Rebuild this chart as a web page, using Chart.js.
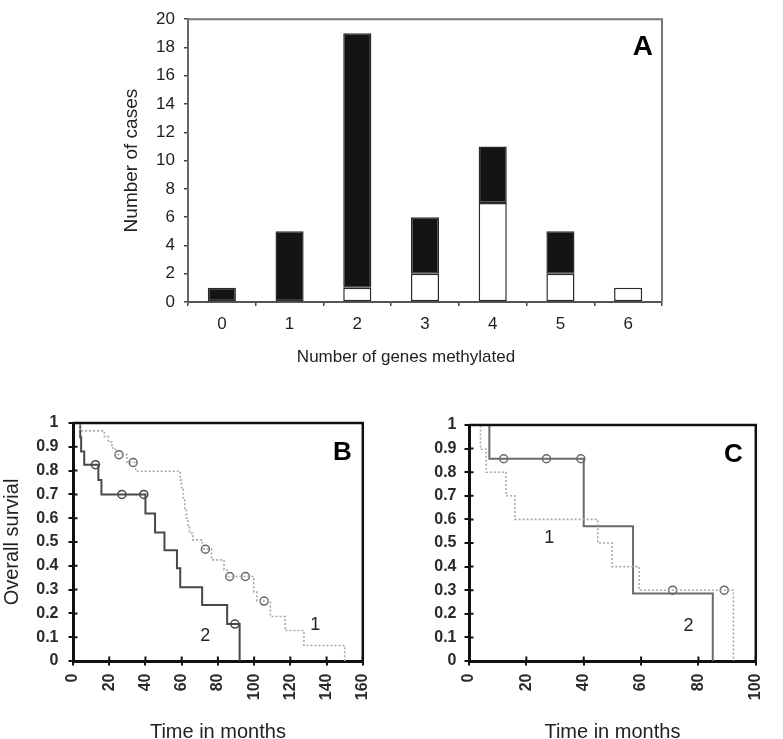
<!DOCTYPE html>
<html>
<head>
<meta charset="utf-8">
<script src="https://cdn.jsdelivr.net/npm/chart.js@4.4.0/dist/chart.umd.min.js"></script>
<style>
  html, body { margin: 0; padding: 0; background: #fff; overflow: hidden; }
  #wrap { position: relative; width: 783px; height: 739px; background: #fff; }
  canvas { position: absolute; }
</style>
</head>
<body>
<div id="wrap">
  <canvas id="cA" width="783" height="370" style="left:0;top:0"></canvas>
  <canvas id="cB" width="390" height="369" style="left:0;top:370px"></canvas>
  <canvas id="cC" width="393" height="369" style="left:390px;top:370px"></canvas>
</div>
<script>
// ---------- DATA ----------
// Panel A
const genesMethylated = ['0', '1', '2', '3', '4', '5', '6'];
const casesWhite = [0, 0, 1, 2, 7, 2, 1];
const casesBlack = [1, 5, 18, 4, 4, 3, 0];
const casesTicks = ['0', '2', '4', '6', '8', '10', '12', '14', '16', '18', '20'];

// Survival tick labels
const survivalTicks = ['0', '0.1', '0.2', '0.3', '0.4', '0.5', '0.6', '0.7', '0.8', '0.9', '1'];

// Panel B, group 1 (dotted)
const bTime1 = [0, 3.8, 17.3, 19.5, 21.5, 23.5, 29.8, 34.6, 59.2, 59.9, 60.9, 61.7, 62.6, 63.5, 64.3, 66.1, 71.3, 76.5, 83.4, 85.1, 99.8, 101.5, 109.0, 117.1, 127.5, 150.0];
const bSurv1 = [1, 0.967, 0.944, 0.92, 0.895, 0.867, 0.834, 0.797, 0.76, 0.72, 0.68, 0.64, 0.60, 0.565, 0.537, 0.509, 0.47, 0.425, 0.383, 0.355, 0.29, 0.252, 0.187, 0.128, 0.065, 0];
const bCensT1 = [25.4, 33.2, 73.1, 86.5, 95.2, 105.5];
const bCensS1 = [0.867, 0.834, 0.47, 0.355, 0.355, 0.252];
// Panel B, group 2 (solid)
const bTime2 = [0, 4.0, 4.5, 6.2, 14.0, 15.7, 40.0, 45.3, 50.5, 57.4, 59.2, 71.3, 85.1, 92.0];
const bSurv2 = [1, 0.94, 0.88, 0.825, 0.76, 0.70, 0.62, 0.54, 0.465, 0.39, 0.31, 0.235, 0.155, 0];
const bCensT2 = [12.4, 27.0, 39.1, 89.4];
const bCensS2 = [0.825, 0.70, 0.70, 0.155];
const bTicksX = ['0', '20', '40', '60', '80', '100', '120', '140', '160'];
const bNotes = [{ text: '1', x: 133.7, y: 0.153 }, { text: '2', x: 73.0, y: 0.104 }];

// Panel C, group 1 (dotted)
const cTime1 = [0, 4.0, 6.0, 12.9, 16.0, 44.9, 49.9, 59.3, 92.2];
const cSurv1 = [1, 0.897, 0.80, 0.70, 0.60, 0.50, 0.40, 0.30, 0];
const cCensT1 = [71.0, 89.0];
const cCensS1 = [0.30, 0.30];
// Panel C, group 2 (solid)
const cTime2 = [0, 7.1, 40.0, 57.2, 85.0];
const cSurv2 = [1, 0.857, 0.571, 0.286, 0];
const cCensT2 = [12.1, 27.0, 39.0];
const cCensS2 = [0.857, 0.857, 0.857];
const cTicksX = ['0', '20', '40', '60', '80', '100'];
const cNotes = [{ text: '1', x: 28.0, y: 0.52 }, { text: '2', x: 76.5, y: 0.147 }];

// ---------- SETUP ----------
const FONT = '"Liberation Sans", Arial, Helvetica, sans-serif';
Chart.defaults.font.family = FONT;
Chart.defaults.color = '#222';

const pts = (xs, ys) => xs.map((x, i) => ({ x: x, y: ys[i] }));

const framePlugin = {
  id: 'frame',
  afterDraw(chart, args, o) {
    const ctx = chart.ctx, a = chart.chartArea;
    const xs = chart.scales.x, ys = chart.scales.y;
    ctx.save();
    ctx.strokeStyle = o.color;
    ctx.lineWidth = o.width;
    ctx.beginPath();
    ctx.moveTo(a.left, a.top);
    ctx.lineTo(a.right, a.top);
    ctx.lineTo(a.right, a.bottom);
    ctx.stroke();
    if (o.innerTick) {
      ctx.strokeStyle = o.tickColor;
      ctx.lineWidth = o.tickWidth;
      ctx.beginPath();
      xs.ticks.forEach((t, i) => {
        const p = xs.getPixelForTick(i);
        ctx.moveTo(p, a.bottom);
        ctx.lineTo(p, a.bottom - o.innerTick);
      });
      ys.ticks.forEach((t, i) => {
        const p = ys.getPixelForTick(i);
        ctx.moveTo(a.left, p);
        ctx.lineTo(a.left + o.innerTick, p);
      });
      ctx.stroke();
    }
    ctx.fillStyle = '#000';
    ctx.font = o.letterFont;
    ctx.textAlign = 'right';
    ctx.textBaseline = 'alphabetic';
    ctx.fillText(o.letter, a.right - o.letterDx, a.top + o.letterDy);
    if (o.notes) {
      ctx.font = o.noteFont;
      ctx.fillStyle = '#222';
      ctx.textAlign = 'center';
      ctx.textBaseline = 'middle';
      o.notes.forEach(n => ctx.fillText(n.text, xs.getPixelForValue(n.x), ys.getPixelForValue(n.y)));
    }
    if (o.xTitle) {
      ctx.font = o.xTitle.font;
      ctx.fillStyle = '#222';
      ctx.textAlign = 'center';
      ctx.textBaseline = 'middle';
      ctx.fillText(o.xTitle.text, a.left + o.xTitle.dx, a.bottom + o.xTitle.dy);
    }
    ctx.restore();
  }
};

// ---------- PANEL A ----------
new Chart(document.getElementById('cA'), {
  type: 'bar',
  data: {
    labels: genesMethylated,
    datasets: [
      { data: casesWhite, backgroundColor: '#ffffff', borderColor: '#2a2a2a', borderWidth: 1.5, borderSkipped: false },
      { data: casesBlack, backgroundColor: '#141414', borderColor: '#2a2a2a', borderWidth: 1.5, borderSkipped: false }
    ]
  },
  options: {
    responsive: false, animation: false, devicePixelRatio: 1,
    layout: { padding: { left: 0, top: 11, right: 121, bottom: 0 } },
    datasets: { bar: { categoryPercentage: 1, barPercentage: 0.415 } },
    plugins: {
      legend: { display: false }, tooltip: { enabled: false },
      frame: { color: '#777', width: 2, letter: 'A', letterFont: 'bold 28px ' + FONT, letterDx: 9, letterDy: 36,
               xTitle: { text: 'Number of genes methylated', font: '17px ' + FONT, dx: 218, dy: 55 } }
    },
    scales: {
      x: {
        stacked: true, offset: true,
        grid: { offset: true, drawOnChartArea: false, drawTicks: true, tickLength: 4, color: '#444', lineWidth: 1.5 },
        border: { display: true, color: '#555', width: 2 },
        ticks: { font: { size: 17 }, color: '#1e1e1e', padding: 8 },
        title: { display: false },
        afterFit: s => { s.height = 68; }
      },
      y: {
        stacked: true, min: 0, max: 20,
        grid: { drawOnChartArea: false, drawTicks: true, tickLength: 4, color: '#444', lineWidth: 1.5 },
        border: { display: true, color: '#666', width: 2 },
        ticks: { stepSize: 2, font: { size: 17 }, color: '#1e1e1e', padding: 9,
                 callback: (v, i) => casesTicks[i] },
        title: { display: true, text: 'Number of cases', font: { size: 19 }, color: '#222', padding: { top: 120, bottom: 0 } },
        afterFit: s => { s.width = 188; }
      }
    }
  },
  plugins: [framePlugin]
});

// ---------- SURVIVAL PANELS ----------
function survivalChart(id, cfg) {
  new Chart(document.getElementById(id), {
    type: 'line',
    data: {
      datasets: [
        { data: pts(cfg.t1, cfg.s1), stepped: true, borderColor: '#a8a8a8', borderWidth: 1.6, borderDash: [2, 2], pointRadius: 0, fill: false },
        { data: pts(cfg.t2, cfg.s2), stepped: true, borderColor: cfg.solidColor, borderWidth: 2, pointRadius: 0, fill: false },
        { data: pts(cfg.ct1, cfg.cs1), showLine: false, pointStyle: 'circle', pointRadius: 4, pointBackgroundColor: '#fff', pointBorderColor: '#666', pointBorderWidth: 1.5 },
        { data: pts(cfg.ct2, cfg.cs2), showLine: false, pointStyle: 'circle', pointRadius: 4, pointBackgroundColor: '#fff', pointBorderColor: cfg.solidColor, pointBorderWidth: 1.5 }
      ]
    },
    options: {
      responsive: false, animation: false, devicePixelRatio: 1,
      layout: { padding: { left: 0, top: cfg.padTop, right: cfg.padRight, bottom: 0 } },
      plugins: {
        legend: { display: false }, tooltip: { enabled: false },
        frame: { color: '#111', width: 2.5, innerTick: 4.5, tickColor: '#111', tickWidth: 2,
                 letter: cfg.letter, letterFont: 'bold 26px ' + FONT, letterDx: cfg.letterDx, letterDy: 37,
                 notes: cfg.notes, noteFont: '18px ' + FONT }
      },
      scales: {
        x: {
          type: 'linear', min: 0, max: cfg.xmax,
          grid: { drawOnChartArea: false, drawTicks: true, tickLength: 4.5, color: '#111', lineWidth: 2 },
          border: { display: true, color: '#111', width: 3 },
          ticks: { stepSize: 20, minRotation: 90, maxRotation: 90, font: { size: 16, weight: 'bold' }, color: '#2a2a2a', padding: 8,
                   callback: (v, i) => cfg.xTicks[i] },
          title: { display: cfg.xTitle, text: 'Time in months', font: { size: 20, lineHeight: 1 }, color: '#222', padding: { top: 0, bottom: -3 } },
          afterFit: s => { s.height = 78; }
        },
        y: {
          min: 0, max: 1,
          grid: { drawOnChartArea: false, drawTicks: true, tickLength: 4.5, color: '#111', lineWidth: 2 },
          border: { display: true, color: '#111', width: 3 },
          ticks: { stepSize: 0.1, font: { size: 16, weight: 'bold' }, color: '#2a2a2a', padding: cfg.yPad,
                   callback: (v, i) => survivalTicks[i] },
          title: { display: cfg.yTitle, text: 'Overall survial', font: { size: 20 }, color: '#222', padding: { top: 0, bottom: 0 } },
          afterFit: s => { s.width = cfg.yWidth; }
        }
      }
    },
    plugins: [framePlugin]
  });
}

survivalChart('cB', {
  t1: bTime1, s1: bSurv1, ct1: bCensT1, cs1: bCensS1,
  t2: bTime2, s2: bSurv2, ct2: bCensT2, cs2: bCensS2,
  solidColor: '#484848', xmax: 160, xTicks: bTicksX, notes: bNotes,
  letter: 'B', letterDx: 11, padTop: 53, padRight: 9, yWidth: 73, yPad: 10,
  xTitle: true, yTitle: true
});

survivalChart('cC', {
  t1: cTime1, s1: cSurv1, ct1: cCensT1, cs1: cCensS1,
  t2: cTime2, s2: cSurv2, ct2: cCensT2, cs2: cCensS2,
  solidColor: '#6a6a6a', xmax: 100, xTicks: cTicksX, notes: cNotes,
  letter: 'C', letterDx: 13, padTop: 55, padRight: 10, yWidth: 79, yPad: 8,
  xTitle: true, yTitle: false
});
</script>
</body>
</html>
